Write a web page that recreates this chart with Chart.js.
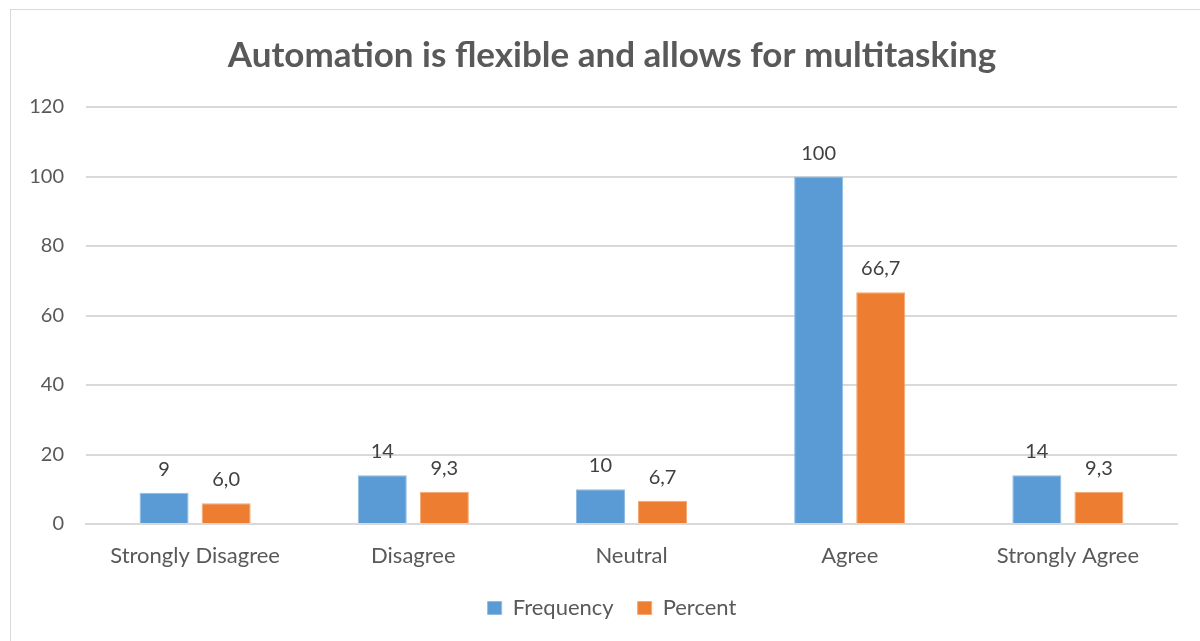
<!DOCTYPE html>
<html>
<head>
<meta charset="utf-8">
<title>Automation is flexible and allows for multitasking</title>
<script src="https://cdn.jsdelivr.net/npm/chart.js@4/dist/chart.umd.min.js"></script>
<style>
  html, body { margin: 0; padding: 0; background: #fff; }
  #wrap { position: relative; width: 1200px; height: 641px; overflow: hidden; }
  #frame { position: absolute; left: 10px; top: 9px; width: 1220px; height: 660px; border: 1px solid #d9d9d9; box-sizing: border-box; }
  canvas { position: absolute; left: 0; top: 0; }
</style>
</head>
<body>
<div id="wrap">
  <div id="frame"></div>
  <canvas id="chart" width="1200" height="641"></canvas>
</div>
<script>
  // survey answers
  const categories = ["Strongly Disagree", "Disagree", "Neutral", "Agree", "Strongly Agree"];
  const frequency = [9, 14, 10, 100, 14];
  const percent = [6.0, 9.3, 6.7, 66.7, 9.3];
  const yTicks = [0, 20, 40, 60, 80, 100, 120];

  const FONT = "Lato, 'Open Sans', sans-serif";
  const TEXT = "#595959";

  // values written above each bar, with a decimal comma for percents
  const valueLabels = {
    id: "valueLabels",
    afterDatasetsDraw(chart) {
      const ctx = chart.ctx;
      ctx.save();
      ctx.font = "20px " + FONT;
      ctx.fillStyle = "#404040";
      ctx.textAlign = "center";
      ctx.textBaseline = "alphabetic";
      chart.data.datasets.forEach((ds, i) => {
        chart.getDatasetMeta(i).data.forEach((bar, j) => {
          let v = ds.data[j];
          let txt = i === 1 ? v.toFixed(1).replace(".", ",") : String(v);
          ctx.fillText(txt, bar.x, bar.y - 17);
        });
      });
      ctx.restore();
    }
  };

  new Chart(document.getElementById("chart"), {
    type: "bar",
    data: {
      labels: categories,
      datasets: [
        { label: "Frequency", data: frequency, backgroundColor: "#5B9BD5", borderColor: "#8fbbe3", borderWidth: 1,
          categoryPercentage: 0.569, barPercentage: 0.79 },
        { label: "Percent", data: percent, backgroundColor: "#ED7D31", borderColor: "#f3a873", borderWidth: 1,
          categoryPercentage: 0.569, barPercentage: 0.79 }
      ]
    },
    options: {
      responsive: false,
      animation: false,
      layout: { padding: { left: 47, right: 23, top: 0, bottom: 12 } },
      plugins: {
        title: {
          display: true,
          text: "Automation is flexible and allows for multitasking",
          color: TEXT,
          font: { family: FONT, size: 35, weight: "bold" },
          padding: { top: 35, bottom: 30 }
        },
        legend: {
          position: "bottom",
          labels: {
            color: TEXT,
            font: { family: FONT, size: 22 },
            boxWidth: 14,
            boxHeight: 13,
            padding: 24
          }
        },
        tooltip: { enabled: false }
      },
      scales: {
        x: {
          grid: { display: false, drawTicks: false },
          border: { display: true, color: "#d9d9d9", width: 2 },
          ticks: { color: TEXT, font: { family: FONT, size: 22 }, padding: 19 },
          afterFit(scale) { scale.height = 49; }
        },
        y: {
          min: 0,
          max: 120,
          afterBuildTicks(scale) { scale.ticks = yTicks.map(v => ({ value: v })); },
          afterFit(scale) {
            scale.width = 39;
            // the labels are wider than the narrow axis box, so skip label clipping
            scale._computeLabelArea = () => undefined;
          },
          grid: { color: "#d9d9d9", lineWidth: 2, drawTicks: false },
          border: { display: false },
          ticks: { color: TEXT, font: { family: FONT, size: 20 }, padding: 22 }
        }
      }
    },
    plugins: [valueLabels]
  });
</script>
</body>
</html>
